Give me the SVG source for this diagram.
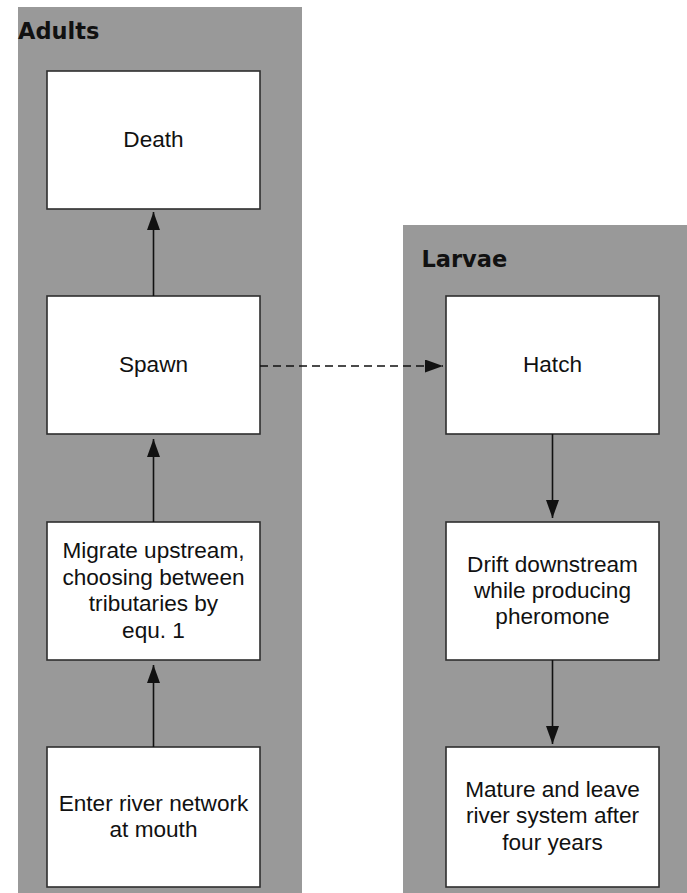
<svg xmlns="http://www.w3.org/2000/svg" width="687" height="893" viewBox="0 0 687 893">
  <style>
    .panel { fill: #999999; }
    .box { fill: #ffffff; stroke: #2e2e2e; stroke-width: 1.6; }
    .title { font-family: "DejaVu Sans", sans-serif; font-weight: bold; font-size: 22.5px; fill: #111111; }
    .lbl { font-family: "Liberation Sans", Arial, sans-serif; font-size: 22.6px; fill: #111111; text-anchor: middle; }
    .conn { stroke: #111111; stroke-width: 1.6; fill: none; }
    .dash { stroke-dasharray: 8 5; }
  </style>
  <defs>
    <marker id="arrow" viewBox="0 0 18 13" refX="18" refY="6.5" markerWidth="18" markerHeight="13" markerUnits="userSpaceOnUse" orient="auto">
      <path d="M0,0 L18,6.5 L0,13 Z" fill="#111111"/>
    </marker>
  </defs>
  <rect width="687" height="893" fill="#ffffff"/>

  <g id="adults-panel">
    <rect class="panel" x="18" y="7" width="284" height="886"/>
    <text class="title" x="18" y="39">Adults</text>
  </g>
  <g id="larvae-panel">
    <rect class="panel" x="403" y="225" width="284" height="668"/>
    <text class="title" x="421.5" y="266.5">Larvae</text>
  </g>

  <g id="death">
    <rect class="box" x="47" y="71" width="213" height="138"/>
    <text class="lbl" x="153.5" y="147">Death</text>
  </g>
  <g id="spawn">
    <rect class="box" x="47" y="296" width="213" height="138"/>
    <text class="lbl" x="153.5" y="372">Spawn</text>
  </g>
  <g id="migrate">
    <rect class="box" x="47" y="522" width="213" height="138"/>
    <text class="lbl" x="153.5" y="558">Migrate upstream,</text>
    <text class="lbl" x="153.5" y="584.5">choosing between</text>
    <text class="lbl" x="153.5" y="611">tributaries by</text>
    <text class="lbl" x="153.5" y="637.5">equ. 1</text>
  </g>
  <g id="enter">
    <rect class="box" x="47" y="747" width="213" height="140"/>
    <text class="lbl" x="153.5" y="810.5">Enter river network</text>
    <text class="lbl" x="153.5" y="836.5">at mouth</text>
  </g>
  <g id="hatch">
    <rect class="box" x="446" y="296" width="213" height="138"/>
    <text class="lbl" x="552.5" y="372">Hatch</text>
  </g>
  <g id="drift">
    <rect class="box" x="446" y="522" width="213" height="138"/>
    <text class="lbl" x="552.5" y="571.5">Drift downstream</text>
    <text class="lbl" x="552.5" y="597.5">while producing</text>
    <text class="lbl" x="552.5" y="623.5">pheromone</text>
  </g>
  <g id="mature">
    <rect class="box" x="446" y="747" width="213" height="140"/>
    <text class="lbl" x="552.5" y="796.5">Mature and leave</text>
    <text class="lbl" x="552.5" y="823">river system after</text>
    <text class="lbl" x="552.5" y="849.5">four years</text>
  </g>

  <g id="connectors">
    <line class="conn" x1="153.5" y1="296" x2="153.5" y2="212" marker-end="url(#arrow)"/>
    <line class="conn" x1="153.5" y1="522" x2="153.5" y2="439" marker-end="url(#arrow)"/>
    <line class="conn" x1="153.5" y1="747" x2="153.5" y2="665" marker-end="url(#arrow)"/>
    <line class="conn" x1="552.5" y1="434" x2="552.5" y2="518" marker-end="url(#arrow)"/>
    <line class="conn" x1="552.5" y1="660" x2="552.5" y2="744" marker-end="url(#arrow)"/>
    <line class="conn dash" x1="260" y1="366" x2="443" y2="366" marker-end="url(#arrow)"/>
  </g>
</svg>
